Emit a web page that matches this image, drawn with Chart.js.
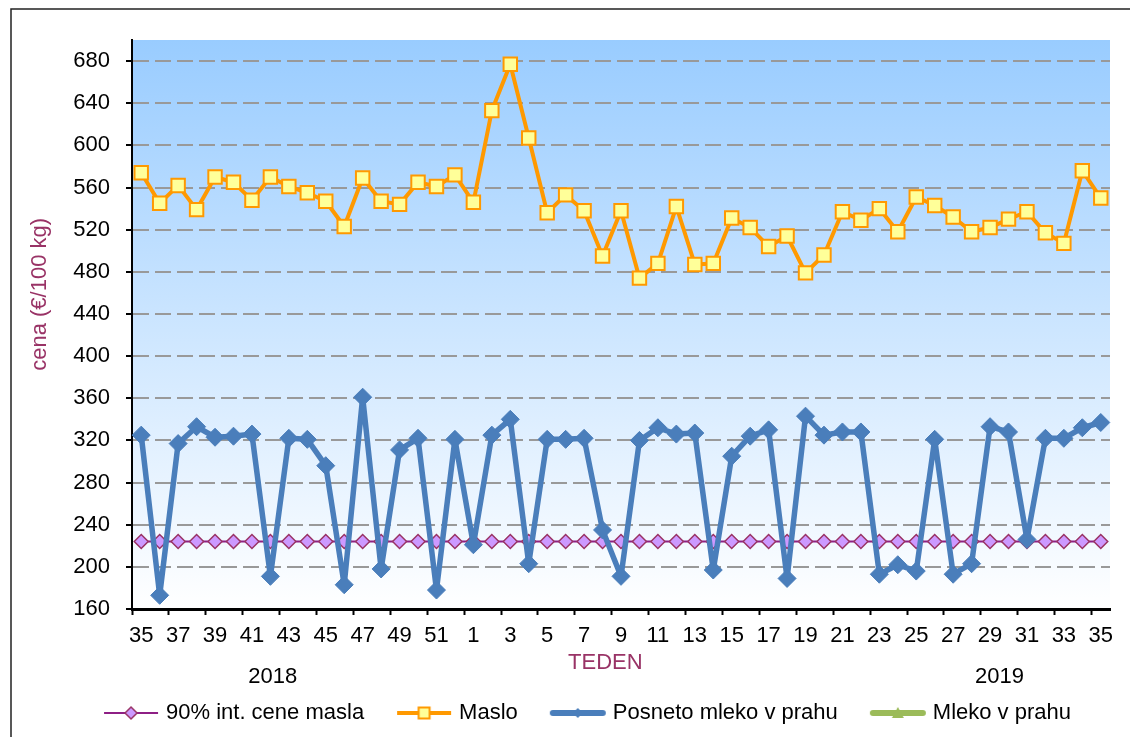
<!DOCTYPE html>
<html>
<head>
<meta charset="utf-8">
<script src="https://cdn.jsdelivr.net/npm/chart.js@4.4.0/dist/chart.umd.min.js"></script>
<style>
  html, body { margin: 0; padding: 0; background: #fff; }
  #wrap { width: 1130px; height: 737px; }
</style>
</head>
<body>
<div id="wrap"><canvas id="chart" width="1130" height="737"></canvas></div>
<script>
// weeks 35/2018 .. 35/2019
var weeks = [35, 36, 37, 38, 39, 40, 41, 42, 43, 44, 45, 46, 47, 48, 49, 50, 51, 52,
  1, 2, 3, 4, 5, 6, 7, 8, 9, 10, 11, 12, 13, 14, 15, 16, 17, 18, 19, 20,
  21, 22, 23, 24, 25, 26, 27, 28, 29, 30, 31, 32, 33, 34, 35];
var yearLabels = ['2018', '2019'];
var yTicks = [160, 200, 240, 280, 320, 360, 400, 440, 480, 520, 560, 600, 640, 680];

var intervention = [224, 224, 224, 224, 224, 224, 224, 224, 224, 224, 224, 224, 224, 224, 224, 224, 224, 224,
  224, 224, 224, 224, 224, 224, 224, 224, 224, 224, 224, 224, 224, 224, 224, 224, 224, 224, 224, 224,
  224, 224, 224, 224, 224, 224, 224, 224, 224, 224, 224, 224, 224, 224, 224];
var maslo = [574, 545, 562, 539, 570, 565, 548, 570, 561, 555, 547, 523, 569, 547, 544, 565, 561, 572,
  546, 633, 677, 607, 536, 553, 538, 495, 538, 474, 488, 542, 487, 488, 531, 522, 504, 514, 479, 496,
  537, 529, 540, 518, 551, 543, 532, 518, 522, 530, 537, 517, 507, 576, 550];
var posneto = [325, 173, 317, 333, 323, 324, 326, 191, 322, 321, 296, 183, 361, 198, 311, 322, 178, 321,
  221, 325, 340, 203, 321, 321, 322, 235, 191, 320, 332, 326, 327, 197, 305, 324, 330, 189, 343, 325,
  328, 328, 193, 202, 196, 321, 193, 203, 333, 328, 226, 322, 322, 332, 337];
var mleko = [];

var FONT = '"Liberation Sans", Arial, sans-serif';
var TITLE_COLOR = '#993366';

Chart.defaults.font.family = FONT;
Chart.defaults.font.size = 22;
Chart.defaults.color = '#000';

// small legend pictures: line with the marker on it
function legendIcon(draw) {
  var c = document.createElement('canvas');
  c.width = 58;
  c.height = 20;
  draw(c.getContext('2d'));
  return c;
}
var icons = [
  legendIcon(function (g) {
    g.strokeStyle = '#8E1F85'; g.lineWidth = 2;
    g.beginPath(); g.moveTo(2, 10); g.lineTo(56, 10); g.stroke();
    g.beginPath(); g.moveTo(23, 10); g.lineTo(29, 4); g.lineTo(35, 10); g.lineTo(29, 16); g.closePath();
    g.fillStyle = '#CC99FF'; g.fill(); g.strokeStyle = '#993366'; g.lineWidth = 1.5; g.stroke();
  }),
  legendIcon(function (g) {
    g.strokeStyle = '#FF9900'; g.lineWidth = 4;
    g.beginPath(); g.moveTo(2, 10); g.lineTo(56, 10); g.stroke();
    g.fillStyle = '#FFFF99'; g.fillRect(23.5, 4.5, 11, 11);
    g.lineWidth = 2; g.strokeRect(23.5, 4.5, 11, 11);
  }),
  legendIcon(function (g) {
    g.strokeStyle = '#4A7EBB'; g.lineWidth = 6; g.lineCap = 'round';
    g.beginPath(); g.moveTo(4, 10); g.lineTo(54, 10); g.stroke();
    g.beginPath(); g.moveTo(24, 10); g.lineTo(29, 5); g.lineTo(34, 10); g.lineTo(29, 15); g.closePath();
    g.fillStyle = '#4A7EBB'; g.fill();
  }),
  legendIcon(function (g) {
    g.strokeStyle = '#9BBB59'; g.lineWidth = 6; g.lineCap = 'round';
    g.beginPath(); g.moveTo(4, 10); g.lineTo(54, 10); g.stroke();
    g.beginPath(); g.moveTo(29, 4); g.lineTo(35, 15); g.lineTo(23, 15); g.closePath();
    g.fillStyle = '#9BBB59'; g.fill();
  })
];

// gradient behind the plot
var plotBackground = {
  id: 'plotBackground',
  beforeDraw: function (chart) {
    var a = chart.chartArea, ctx = chart.ctx;
    var grad = ctx.createLinearGradient(0, a.top, 0, a.bottom);
    grad.addColorStop(0, '#99CCFF');
    grad.addColorStop(1, '#FFFFFF');
    ctx.save();
    ctx.fillStyle = grad;
    ctx.fillRect(a.left, a.top, a.right - a.left, a.bottom - a.top);
    ctx.restore();
  }
};

// frame, axis titles and year captions
var extraText = {
  id: 'extraText',
  afterDraw: function (chart) {
    var a = chart.chartArea, ctx = chart.ctx;
    var w = a.right - a.left;
    ctx.save();
    ctx.strokeStyle = '#222';
    ctx.lineWidth = 1.5;
    ctx.strokeRect(11, 9, 1300, 900);

    ctx.font = '22px ' + FONT;
    ctx.textAlign = 'center';
    ctx.textBaseline = 'middle';
    ctx.fillStyle = TITLE_COLOR;
    ctx.fillText('TEDEN', a.left + w * 0.484, a.bottom + 54);

    ctx.fillStyle = '#000';
    ctx.fillText(yearLabels[0], a.left + w * 0.144, a.bottom + 68);
    ctx.fillText(yearLabels[1], a.left + w * 0.887, a.bottom + 68);

    ctx.translate(40, a.top + (a.bottom - a.top) * 0.447);
    ctx.rotate(-Math.PI / 2);
    ctx.fillStyle = TITLE_COLOR;
    ctx.fillText('cena (\u20AC/100 kg)', 0, 0);
    ctx.restore();
  }
};

new Chart(document.getElementById('chart'), {
  type: 'line',
  data: {
    labels: weeks,
    datasets: [
      {
        label: '90% int. cene masla',
        data: intervention,
        borderColor: '#8E1F85',
        borderWidth: 2,
        pointStyle: 'rectRot',
        pointRadius: 7,
        pointBackgroundColor: '#CC99FF',
        pointBorderColor: '#993366',
        pointBorderWidth: 1.5,
        order: 3
      },
      {
        label: 'Maslo',
        data: maslo,
        borderColor: '#FF9900',
        borderWidth: 4,
        borderJoinStyle: 'round',
        pointStyle: 'rect',
        pointRadius: 9.5,
        pointBackgroundColor: '#FFFF99',
        pointBorderColor: '#FF9900',
        pointBorderWidth: 2,
        order: 2
      },
      {
        label: 'Posneto mleko v prahu',
        data: posneto,
        borderColor: '#4A7EBB',
        borderWidth: 5.5,
        borderJoinStyle: 'round',
        pointStyle: 'rectRot',
        pointRadius: 9,
        pointBackgroundColor: '#4A7EBB',
        pointBorderColor: '#4A7EBB',
        pointBorderWidth: 1,
        order: 1
      },
      {
        label: 'Mleko v prahu',
        data: mleko,
        borderColor: '#9BBB59',
        borderWidth: 5.5,
        pointStyle: 'triangle',
        pointRadius: 7,
        pointBackgroundColor: '#9BBB59',
        pointBorderColor: '#9BBB59',
        order: 4
      }
    ]
  },
  options: {
    responsive: false,
    animation: false,
    events: [],
    devicePixelRatio: 1,
    layout: { padding: { left: 68, top: 40, right: 20, bottom: 3 } },
    scales: {
      x: {
        offset: true,
        afterFit: function (scale) { scale.height = 57; },
        grid: {
          offset: true,
          drawOnChartArea: false,
          tickLength: 6,
          tickWidth: 2,
          tickColor: function (ctx) { return ctx.index % 2 === 0 ? '#000' : 'rgba(0,0,0,0)'; }
        },
        border: { color: '#000', width: 3 },
        ticks: {
          autoSkip: false,
          maxRotation: 0,
          padding: 8,
          callback: function (v, i) { return i % 2 === 0 ? String(weeks[i]) : ''; }
        }
      },
      y: {
        min: 160,
        max: 700,
        afterFit: function (scale) { scale.width = 64; },
        afterBuildTicks: function (scale) {
          scale.ticks = yTicks.map(function (v) { return { value: v }; });
        },
        grid: {
          color: '#999999',
          lineWidth: 2,
          tickLength: 6,
          tickWidth: 2,
          tickColor: '#000'
        },
        border: { color: '#000', width: 2, dash: [16, 6] },
        ticks: { padding: 16 }
      }
    },
    plugins: {
      tooltip: { enabled: false },
      legend: {
        position: 'bottom',
        labels: {
          usePointStyle: true,
          pointStyleWidth: 48,
          padding: 36,
          color: '#000',
          font: { size: 22 },
          generateLabels: function (chart) {
            return chart.data.datasets.map(function (ds, i) {
              return {
                text: ds.label,
                pointStyle: icons[i],
                datasetIndex: i,
                hidden: false,
                lineWidth: 0,
                fillStyle: ds.borderColor,
                strokeStyle: ds.borderColor
              };
            });
          }
        }
      }
    }
  },
  plugins: [plotBackground, extraText]
});
</script>
</body>
</html>
